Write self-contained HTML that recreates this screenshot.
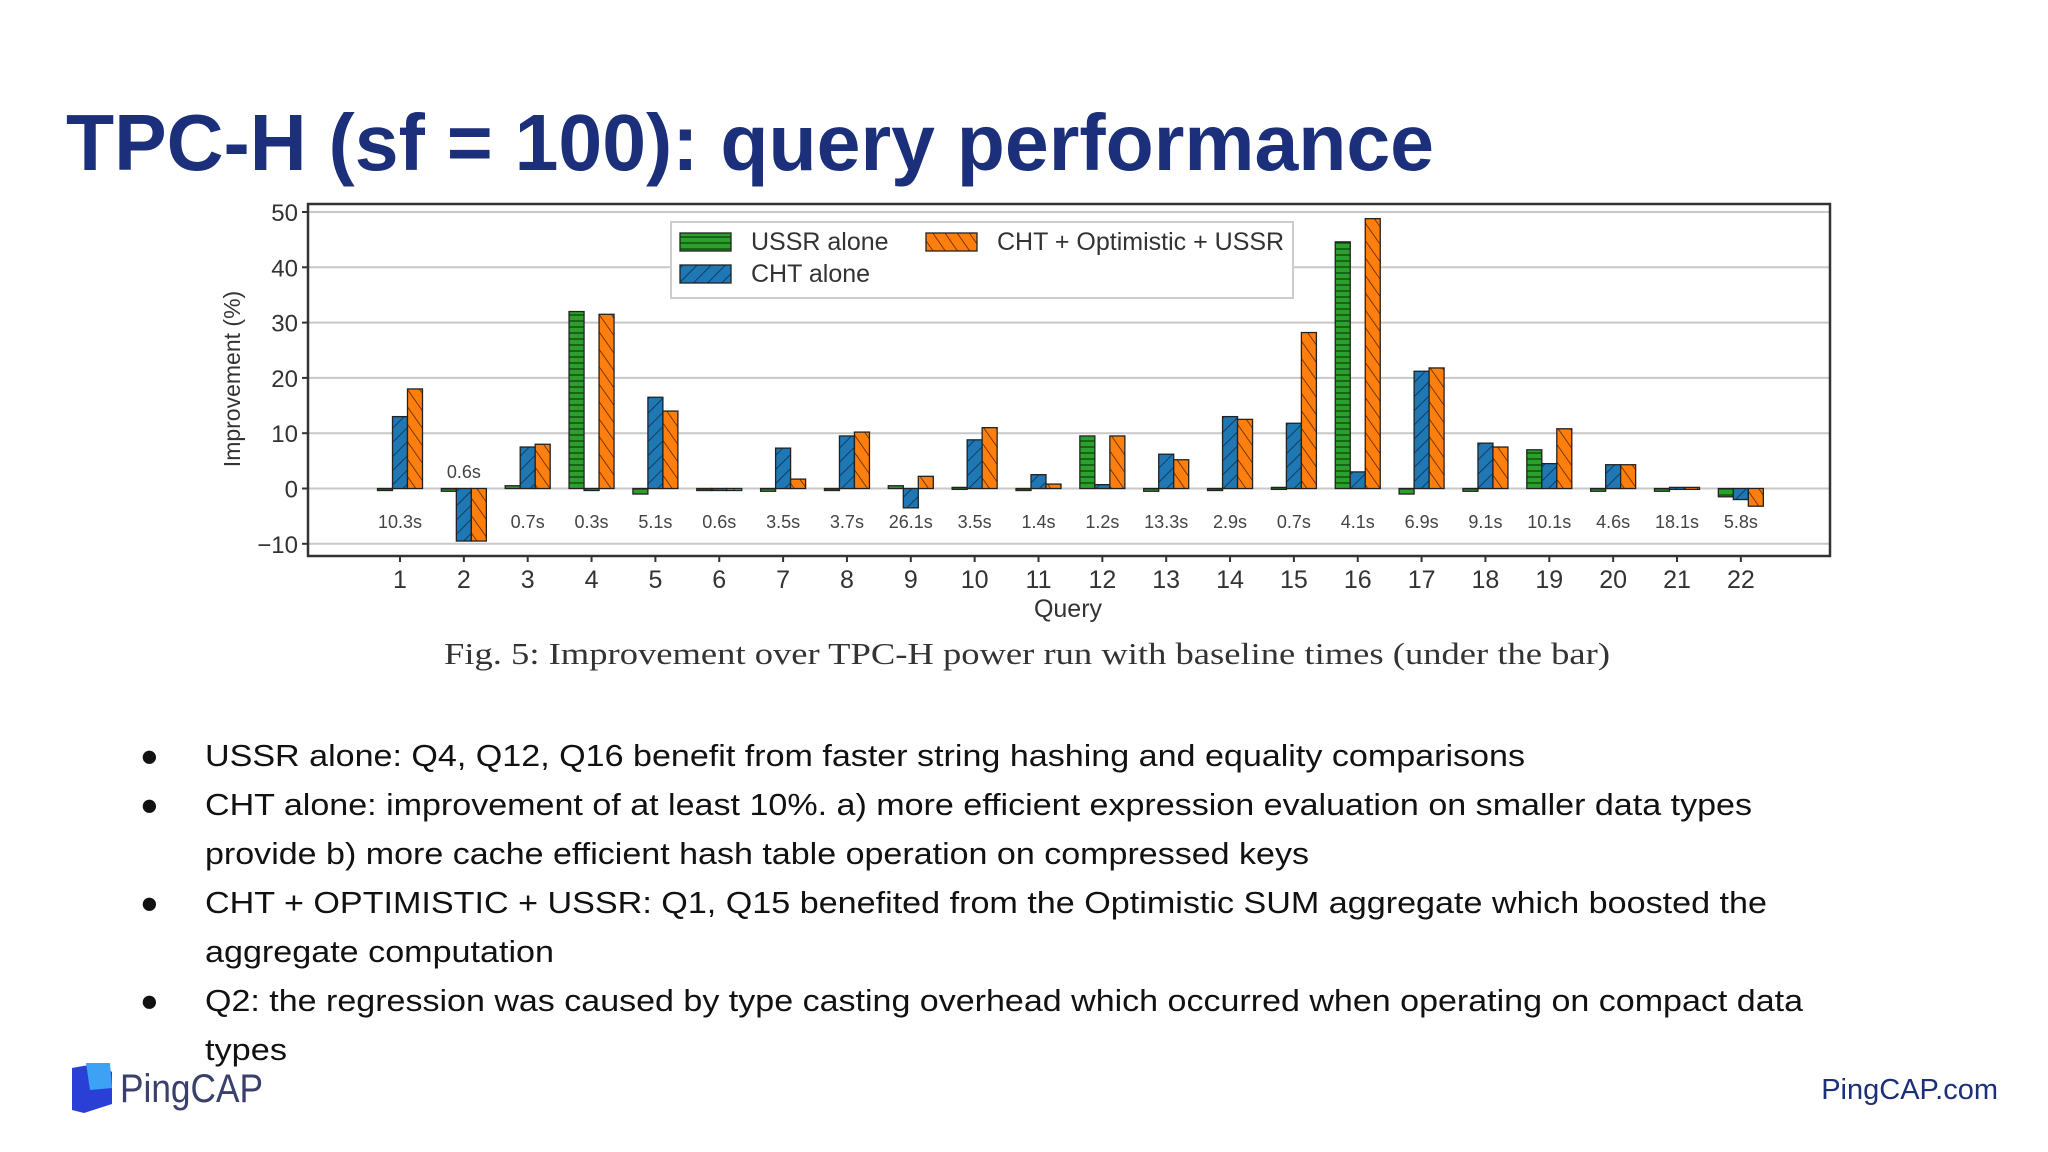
<!DOCTYPE html>
<html><head><meta charset="utf-8"><style>
html,body{margin:0;padding:0;background:#fff;}
svg{display:block;font-family:"Liberation Sans",sans-serif;}
</style></head><body>
<svg id="page" width="2048" height="1152" viewBox="0 0 2048 1152" xmlns="http://www.w3.org/2000/svg">
<defs>
<pattern id="hG" patternUnits="userSpaceOnUse" width="8" height="6"><rect width="8" height="6" fill="#2ca02c"/><line x1="0" y1="3" x2="8" y2="3" stroke="#0b3d0b" stroke-width="1.2"/></pattern>
<pattern id="hB" patternUnits="userSpaceOnUse" width="10" height="10" patternTransform="rotate(45)"><rect width="10" height="10" fill="#1f77b4"/><line x1="0" y1="0" x2="0" y2="10" stroke="#0a2a44" stroke-width="1.5"/></pattern>
<pattern id="hO" patternUnits="userSpaceOnUse" width="10" height="10" patternTransform="rotate(-35)"><rect width="10" height="10" fill="#ff7f0e"/><line x1="0" y1="0" x2="0" y2="10" stroke="#4a2000" stroke-width="1.5"/></pattern>
</defs>
<text x="66" y="170" font-size="80" font-weight="bold" fill="#1b2f7a" textLength="1368" lengthAdjust="spacingAndGlyphs">TPC-H (sf = 100): query performance</text>
<g id="chart"></g>
<text x="444" y="664" font-family="Liberation Serif, serif" font-size="31" fill="#333" textLength="1166" lengthAdjust="spacingAndGlyphs">Fig. 5: Improvement over TPC-H power run with baseline times (under the bar)</text>
<g font-size="31" fill="#111">
<text x="140" y="766">●</text><text x="205" y="766" textLength="1320" lengthAdjust="spacingAndGlyphs">USSR alone: Q4, Q12, Q16 benefit from faster string hashing and equality comparisons</text>
<text x="140" y="815">●</text><text x="205" y="815" textLength="1547" lengthAdjust="spacingAndGlyphs">CHT alone: improvement of at least 10%. a) more efficient expression evaluation on smaller data types</text>
<text x="205" y="864" textLength="1104" lengthAdjust="spacingAndGlyphs">provide b) more cache efficient hash table operation on compressed keys</text>
<text x="140" y="913">●</text><text x="205" y="913" textLength="1562" lengthAdjust="spacingAndGlyphs">CHT + OPTIMISTIC + USSR: Q1, Q15 benefited from the Optimistic SUM aggregate which boosted the</text>
<text x="205" y="962" textLength="349" lengthAdjust="spacingAndGlyphs">aggregate computation</text>
<text x="140" y="1011">●</text><text x="205" y="1011" textLength="1598" lengthAdjust="spacingAndGlyphs">Q2: the regression was caused by type casting overhead which occurred when operating on compact data</text>
<text x="205" y="1060" textLength="82" lengthAdjust="spacingAndGlyphs">types</text>
</g>
<g>
<polygon points="72,1068 100,1063 112,1072 112,1104 84,1113 72,1110" fill="#2a3fd6"/>
<polygon points="86,1063 110,1063 112,1088 90,1090" fill="#3da2f5"/>
<text x="120" y="1102" font-size="40" fill="#3b3f6b" textLength="143" lengthAdjust="spacingAndGlyphs">PingCAP</text>
</g>
<text x="1998" y="1099" text-anchor="end" font-size="29" fill="#1b2f7a">PingCAP.com</text>
</svg>
<script>
const queries=[1,2,3,4,5,6,7,8,9,10,11,12,13,14,15,16,17,18,19,20,21,22];
const ussrAlone=[0,-0.5,0.5,32,-1,0,-0.5,-0.2,0.5,0.2,-0.3,9.5,-0.5,-0.2,0.2,44.6,-1,-0.5,7,-0.5,-0.5,-1.5];
const chtAlone=[13,-9.5,7.5,0,16.5,0,7.3,9.5,-3.5,8.8,2.5,0.7,6.2,13,11.8,3,21.2,8.2,4.5,4.3,0.2,-2];
const chtOptUssr=[18,-9.5,8,31.5,14,0,1.7,10.2,2.2,11,0.8,9.5,5.2,12.5,28.2,48.8,21.8,7.5,10.8,4.3,0.2,-3.2];
const baseTimes=["10.3s","0.6s","0.7s","0.3s","5.1s","0.6s","3.5s","3.7s","26.1s","3.5s","1.4s","1.2s","13.3s","2.9s","0.7s","4.1s","6.9s","9.1s","10.1s","4.6s","18.1s","5.8s"];
const yTicks=[-10,0,10,20,30,40,50];
const NS="http://www.w3.org/2000/svg";
const g=document.getElementById('chart');
const L=308,R=1830,T=204,B=556;
function y(v){return 488.5-v*5.53;}
function x(i){return 400+i*63.85;}
const bw=15;
function mk(tag,attrs,parent){const e=document.createElementNS(NS,tag);for(const k in attrs)e.setAttribute(k,attrs[k]);(parent||g).appendChild(e);return e;}
mk('rect',{x:L,y:T,width:R-L,height:B-T,fill:'#fff'});
yTicks.forEach(t=>{
  const ln=mk('line',{x1:L,x2:R,y1:y(t),y2:y(t),stroke:'#c8c8c8','stroke-width':2});
  
  
  mk('line',{x1:L-6,x2:L,y1:y(t),y2:y(t),stroke:'#333','stroke-width':2});
  const tx=mk('text',{x:L-10,y:y(t)+9,'text-anchor':'end','font-size':24,fill:'#333'});
  tx.textContent=t<0?'\u2212'+(-t):String(t);
  
  
});
const series=[[ussrAlone,'url(#hG)',-1,'ussr'],[chtAlone,'url(#hB)',0,'cht'],[chtOptUssr,'url(#hO)',1,'cht-opt-ussr']];
queries.forEach((q,i)=>{
  series.forEach(s=>{
    const v=s[0][i];const cx=x(i)+s[2]*bw;
    const y0=y(0),y1=y(v);
    const r=mk('rect',{x:cx-bw/2,y:Math.min(y0,y1),width:bw,height:Math.max(Math.abs(y1-y0),2),fill:s[1],stroke:'#222','stroke-width':1.3});
    
    
  });
  mk('line',{x1:x(i),x2:x(i),y1:B,y2:B+6,stroke:'#333','stroke-width':2});
  const tl=mk('text',{x:x(i),y:588,'text-anchor':'middle','font-size':25,fill:'#333'});
  tl.textContent=q;
  
  
  const bl=mk('text',{x:x(i),y:q===2?478:528,'text-anchor':'middle','font-size':18,fill:'#444'});
  bl.textContent=baseTimes[i];
  
  
});
mk('rect',{x:L,y:T,width:R-L,height:B-T,fill:'none',stroke:'#333','stroke-width':2.5});
const yt=mk('text',{x:0,y:0,'text-anchor':'middle','font-size':23,fill:'#333',transform:'translate(240,379) rotate(-90)'});
yt.textContent='Improvement (%)';


const xt=mk('text',{x:1068,y:617,'text-anchor':'middle','font-size':25,fill:'#333'});
xt.textContent='Query';


const lg=mk('g',{});


mk('rect',{x:671,y:222,width:622,height:76,fill:'#fff',stroke:'#ccc','stroke-width':2},lg);
const entries=[['url(#hG)','USSR alone',680,233],['url(#hO)','CHT + Optimistic + USSR',926,233],['url(#hB)','CHT alone',680,265]];
entries.forEach(e=>{
  mk('rect',{x:e[2],y:e[3],width:51,height:18,fill:e[0],stroke:'#222','stroke-width':1.3},lg);
  const t=mk('text',{x:e[2]+71,y:e[3]+17,'font-size':25,fill:'#333'},lg);
  t.textContent=e[1];
  
  
});
</script>
</body></html>
